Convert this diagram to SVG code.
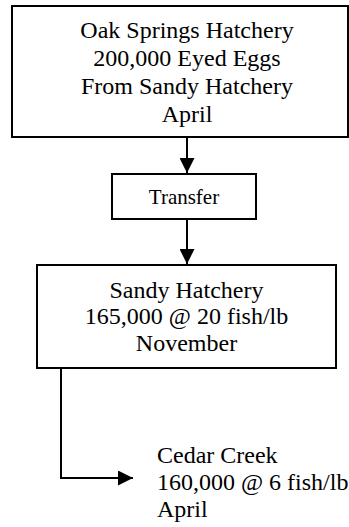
<svg xmlns="http://www.w3.org/2000/svg" width="349" height="527" viewBox="0 0 349 527">
<style>
.box{fill:#fff;stroke:#000;stroke-width:2}
.t{font-family:"Liberation Serif","Times New Roman",serif;font-size:24px;fill:#000}
.c{text-anchor:middle}
.ln{fill:none;stroke:#000;stroke-width:2}
</style>
<defs>
<marker id="ah" markerWidth="15" markerHeight="15" refX="15" refY="7.5" orient="auto" markerUnits="userSpaceOnUse">
<path d="M0,0 L15,7.5 L0,15 Z" fill="#000"/>
</marker>
</defs>
<rect width="349" height="527" fill="#fff"/>
<g id="connectors">
<path class="ln" d="M187,137 V173" marker-end="url(#ah)"/>
<path class="ln" d="M187,219 V264" marker-end="url(#ah)"/>
<path class="ln" d="M61,368 V478 H133" marker-end="url(#ah)"/>
</g>
<g id="oak">
<rect class="box" x="12" y="6" width="336" height="131"/>
<text class="t c" x="187" y="38">Oak Springs Hatchery</text>
<text class="t c" x="187" y="66">200,000 Eyed Eggs</text>
<text class="t c" x="187" y="94">From Sandy Hatchery</text>
<text class="t c" x="187" y="122">April</text>
</g>
<g id="transfer">
<rect class="box" x="112" y="174" width="144" height="45"/>
<text class="t c" x="184" y="204" style="font-size:21px">Transfer</text>
</g>
<g id="sandy">
<rect class="box" x="37" y="265" width="299" height="103"/>
<text class="t c" x="186.5" y="298">Sandy Hatchery</text>
<text class="t c" x="186.5" y="324">165,000 @ 20 fish/lb</text>
<text class="t c" x="186.5" y="351">November</text>
</g>
<g id="cedar">
<text class="t" x="157" y="463">Cedar Creek</text>
<text class="t" x="157" y="490">160,000 @ 6 fish/lb</text>
<text class="t" x="157" y="517">April</text>
</g>
</svg>
